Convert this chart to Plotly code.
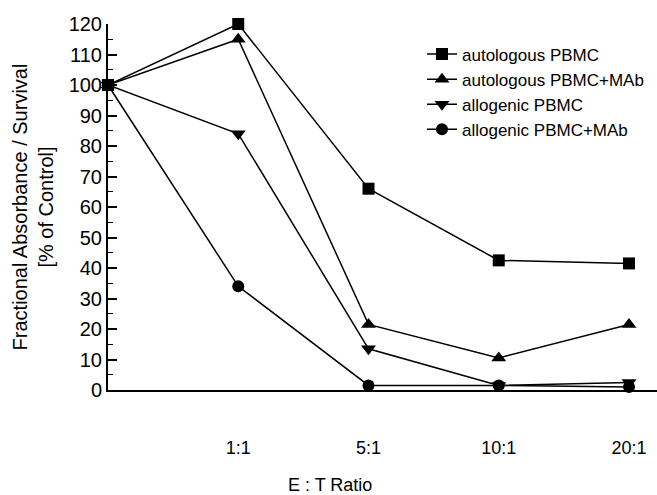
import plotly.graph_objects as go

x_pos = [0, 1, 2, 3, 4]
tick_vals = [1, 2, 3, 4]
tick_text = ["1:1", "5:1", "10:1", "20:1"]

auto_pbmc = [100, 120, 66, 42.5, 41.5]
auto_pbmc_mab = [100, 115, 21.5, 10.5, 21.5]
allo_pbmc = [100, 84, 13.5, 1.5, 2.5]
allo_pbmc_mab = [100, 34, 1.5, 1.5, 1]

series = [
    ("autologous PBMC", auto_pbmc, "square", 12),
    ("autologous PBMC+MAb", auto_pbmc_mab, "triangle-up", 13),
    ("allogenic PBMC", allo_pbmc, "triangle-down", 13),
    ("allogenic PBMC+MAb", allo_pbmc_mab, "circle", 12),
]

FONT = "Arial, Liberation Sans, sans-serif"

fig = go.Figure()
for name, vals, sym, sz in series:
    fig.add_trace(go.Scatter(
        x=x_pos, y=vals, name=name, mode="lines+markers",
        line=dict(color="black", width=1.5),
        marker=dict(symbol=sym, size=sz, color="black"),
        cliponaxis=False,
    ))

fig.update_layout(
    width=657, height=495,
    margin=dict(l=108, r=0, t=24, b=105),
    paper_bgcolor="white", plot_bgcolor="white",
    font=dict(family=FONT, color="black"),
    showlegend=True,
    legend=dict(
        x=(422 - 108) / 549, xanchor="left",
        y=(390 - 92) / 366, yanchor="middle",
        font=dict(size=17, family=FONT, color="black"),
        bgcolor="rgba(0,0,0,0)", borderwidth=0,
        tracegroupgap=0,
    ),
    xaxis=dict(
        range=[0, 4.215], tickvals=tick_vals, ticktext=tick_text,
        showgrid=False, zeroline=False, showline=True,
        linecolor="black", linewidth=2, ticks="",
        tickfont=dict(size=18, family=FONT, color="black"),
        ticklabelstandoff=40,
    ),
    yaxis=dict(
        range=[0, 120], dtick=10, showgrid=False, zeroline=False,
        showline=True, linecolor="black", linewidth=2,
        ticks="inside", ticklen=9, tickwidth=1.5, tickcolor="black",
        minor=dict(dtick=5, ticks="inside", ticklen=5, tickwidth=1, tickcolor="black"),
        tickfont=dict(size=20, family=FONT, color="black"),
        title=dict(text="Fractional Absorbance / Survival<br>[% of Control]",
                   font=dict(size=20, family=FONT, color="black"), standoff=10),
    ),
    annotations=[dict(
        text="E : T Ratio", xref="paper", yref="paper",
        x=(330 - 108) / 549, y=(390 - 485) / 366,
        xanchor="center", yanchor="middle", showarrow=False,
        font=dict(size=18, family=FONT, color="black"),
    )],
)

fig.write_html("out.html")
